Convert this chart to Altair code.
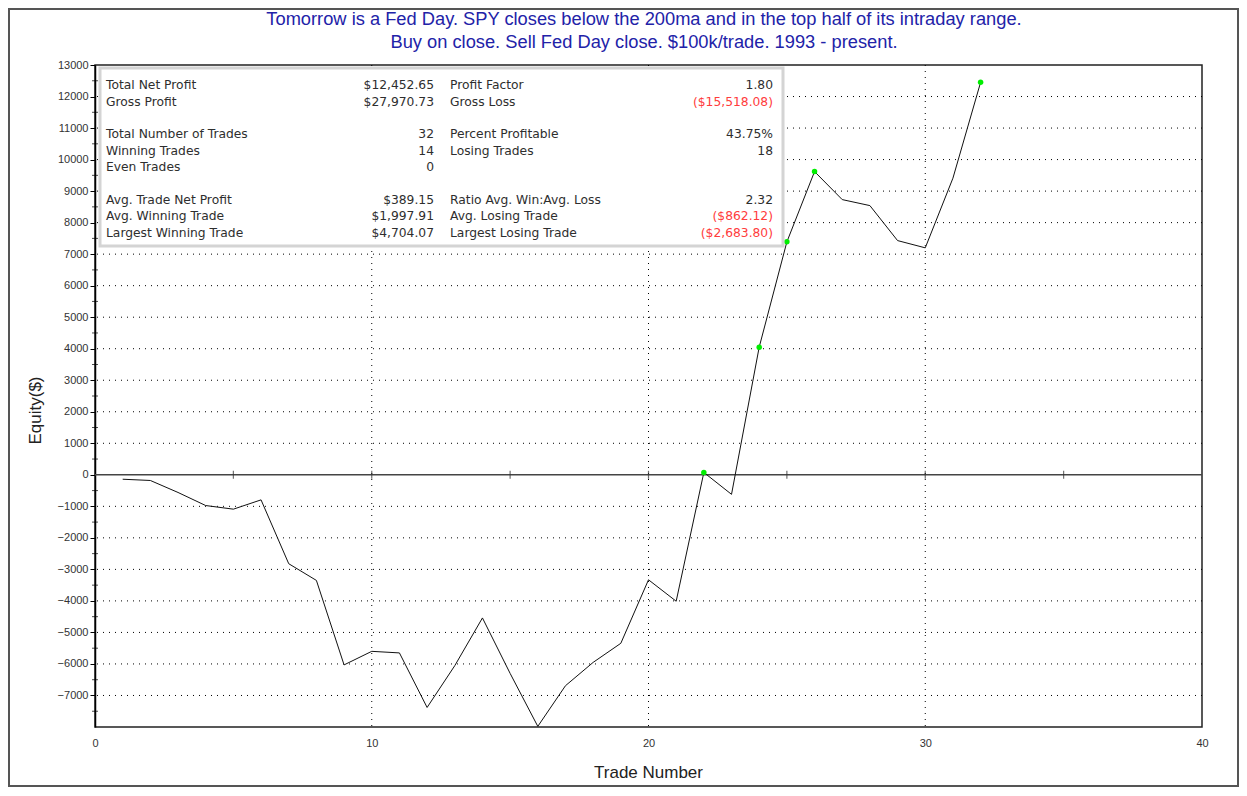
import altair as alt
import pandas as pd

# ---------------- data ----------------
trades = list(range(1, 33))
equity = [-140, -180, -560, -975, -1090, -795, -2820, -3350, -6030, -5600,
          -5650, -7380, -6055, -4540, -6300, -7980, -6690, -5950, -5345, -3330,
          -4010, 75, -620, 4050, 7390, 9620, 8730, 8540, 7430, 7200,
          9410, 12450]

title_lines = [
    "Tomorrow is a Fed Day. SPY closes below the 200ma and in the top half of its intraday range.",
    "Buy on close. Sell Fed Day close. $100k/trade. 1993 - present.",
]

x_tick_labels = [0, 10, 20, 30, 40]
y_tick_labels = [-7000, -6000, -5000, -4000, -3000, -2000, -1000, 0, 1000, 2000,
                 3000, 4000, 5000, 6000, 7000, 8000, 9000, 10000, 11000, 12000, 13000]
grid_y = [-7000, -6000, -5000, -4000, -3000, -2000, -1000, 1000, 2000, 3000,
          4000, 5000, 6000, 7000, 8000, 9000, 10000, 11000, 12000]
grid_x = [10, 20, 30]
zero_line_ticks = [5, 10, 15, 20, 25, 30, 35]
minor_y_ticks = [-7500, -6500, -5500, -4500, -3500, -2500, -1500, -500, 500, 1500,
                 2500, 3500, 4500, 5500, 6500, 7500, 8500, 9500, 10500, 11500, 12500]

stat_labels_left = ["Total Net Profit", "Gross Profit", "Total Number of Trades",
                    "Winning Trades", "Even Trades", "Avg. Trade Net Profit",
                    "Avg. Winning Trade", "Largest Winning Trade"]
stat_values_left = ["$12,452.65", "$27,970.73", "32", "14", "0", "$389.15",
                    "$1,997.91", "$4,704.07"]
stat_labels_right = ["Profit Factor", "Gross Loss", "Percent Profitable",
                     "Losing Trades", "", "Ratio Avg. Win:Avg. Loss",
                     "Avg. Losing Trade", "Largest Losing Trade"]
stat_values_right = ["1.80", "($15,518.08)", "43.75%", "18", "", "2.32",
                     "($862.12)", "($2,683.80)"]

# ---------------- layout (pixels within plot area) ----------------
W, H = 1107, 662
PAD = {"left": 87, "top": 57, "right": 37, "bottom": 60}
row_offsets = [20, 36.5, 69, 85.5, 102, 134.5, 151, 167.5]
title_offsets = [-45.5, -22.5]

df = pd.DataFrame({"trade": trades, "equity": equity})
df["runmax"] = df["equity"].cummax()
df["newhigh"] = (df["equity"] >= df["runmax"]) & (df["equity"] > 0)
highs = df[df["newhigh"]]

stats = pd.DataFrame({
    "l1": stat_labels_left, "v1": stat_values_left,
    "l2": stat_labels_right, "v2": stat_values_right,
    "py": row_offsets,
})
stats["neg"] = stats["v2"].str.startswith("(")

titles = pd.DataFrame({"t": title_lines, "py": title_offsets})

x_scale = alt.Scale(domain=[0, 40], nice=False, zero=False)
y_scale = alt.Scale(domain=[-8000, 13000], nice=False, zero=False)

AX_FONT = "Liberation Sans"
STAT_FONT = "DejaVu Sans"

x_axis = alt.Axis(values=x_tick_labels, ticks=False, domain=False, grid=False,
                  format="d",
                  labelFont=AX_FONT, labelFontSize=11, labelColor="#333333",
                  labelPadding=10, labelFlush=False,
                  title="Trade Number", titleFont=AX_FONT, titleFontSize=17,
                  titleFontWeight="normal", titleColor="#222222",
                  titleX=553, titleY=45, titleBaseline="middle",
                  titleAnchor="middle")
y_axis = alt.Axis(values=y_tick_labels, tickSize=5, tickColor="#000000",
                  tickWidth=1, domain=True, domainColor="#000000",
                  domainWidth=1.5, grid=False, format="d",
                  labelFont=AX_FONT, labelFontSize=11, labelColor="#333333",
                  labelPadding=2,
                  title="Equity($)", titleFont=AX_FONT, titleFontSize=17,
                  titleFontWeight="normal", titleColor="#222222",
                  titleX=-60, titleY=345, titleBaseline="middle",
                  titleAngle=-90, titleAnchor="middle")


def X(field):
    return alt.X(field, scale=x_scale, axis=x_axis)


def Y(field):
    return alt.Y(field, scale=y_scale, axis=y_axis)


# outer picture frame (outline only)
frame = alt.Chart(pd.DataFrame({"f": [0]})).mark_rect(
    fillOpacity=0, stroke="#555555", strokeWidth=2
).encode(x=alt.value(-PAD["left"] + 1), x2=alt.value(W + PAD["right"] - 1),
         y=alt.value(-PAD["top"] + 1), y2=alt.value(H + PAD["bottom"] - 1))

title_text = alt.Chart(titles).mark_text(
    font=AX_FONT, fontSize=18.3, color="#2222a8", align="center", baseline="middle"
).encode(x=alt.value(549), y=alt.Y("py:Q", scale=None), text="t:N")

line = alt.Chart(df).mark_line(color="#111111", strokeWidth=1).encode(
    x=X("trade:Q"), y=Y("equity:Q"))

hgrid = alt.Chart(pd.DataFrame({"g": grid_y})).mark_rule(
    color="#000000", strokeWidth=1, strokeDash=[1, 5]
).encode(y=Y("g:Q"))

vgrid = alt.Chart(pd.DataFrame({"g": grid_x})).mark_rule(
    color="#000000", strokeWidth=1, strokeDash=[1, 5]
).encode(x=X("g:Q"))

zero_line = alt.Chart(pd.DataFrame({"z": [0]})).mark_rule(
    color="#444444", strokeWidth=1.5
).encode(y=Y("z:Q"))

zero_ticks = alt.Chart(pd.DataFrame({"t": zero_line_ticks, "z": 0})).mark_tick(
    orient="vertical", size=8, thickness=1.2, color="#333333"
).encode(x=X("t:Q"), y=Y("z:Q"))

minor_ticks = alt.Chart(pd.DataFrame({"t": minor_y_ticks})).mark_tick(
    orient="horizontal", size=6, thickness=1, color="#000000"
).encode(x=alt.value(0), y=Y("t:Q"))

points = alt.Chart(highs).mark_circle(color="#00ee00", size=30, opacity=1).encode(
    x=X("trade:Q"), y=Y("equity:Q"))

box = alt.Chart(pd.DataFrame({"b": [0]})).mark_rect(
    fill="#ffffff", stroke="#d4d4d4", strokeWidth=3
).encode(x=alt.value(5), x2=alt.value(688), y=alt.value(3), y2=alt.value(181))

stats_base = alt.Chart(stats)
txt_kw = dict(font=STAT_FONT, fontSize=12.3, baseline="middle")
t_l1 = stats_base.mark_text(align="left", color="#2e2e2e", **txt_kw).encode(
    x=alt.value(11), y=alt.Y("py:Q", scale=None), text="l1:N")
t_v1 = stats_base.mark_text(align="right", color="#2e2e2e", **txt_kw).encode(
    x=alt.value(339), y=alt.Y("py:Q", scale=None), text="v1:N")
t_l2 = stats_base.mark_text(align="left", color="#2e2e2e", **txt_kw).encode(
    x=alt.value(355), y=alt.Y("py:Q", scale=None), text="l2:N")
t_v2 = stats_base.mark_text(align="right", **txt_kw).encode(
    x=alt.value(678), y=alt.Y("py:Q", scale=None), text="v2:N",
    color=alt.condition("datum.neg", alt.value("#ff3c3c"), alt.value("#2e2e2e")))

chart = alt.layer(
    hgrid, vgrid, zero_line, zero_ticks, minor_ticks, line, points,
    box, t_l1, t_v1, t_l2, t_v2, title_text, frame,
).properties(
    width=W, height=H,
    background="#ffffff",
    autosize=alt.AutoSizeParams(type="none"),
    padding=PAD,
).configure_view(
    stroke="#222222", strokeWidth=1.5
)

chart.save("out.html", embed_options={"renderer": "svg", "actions": False})
